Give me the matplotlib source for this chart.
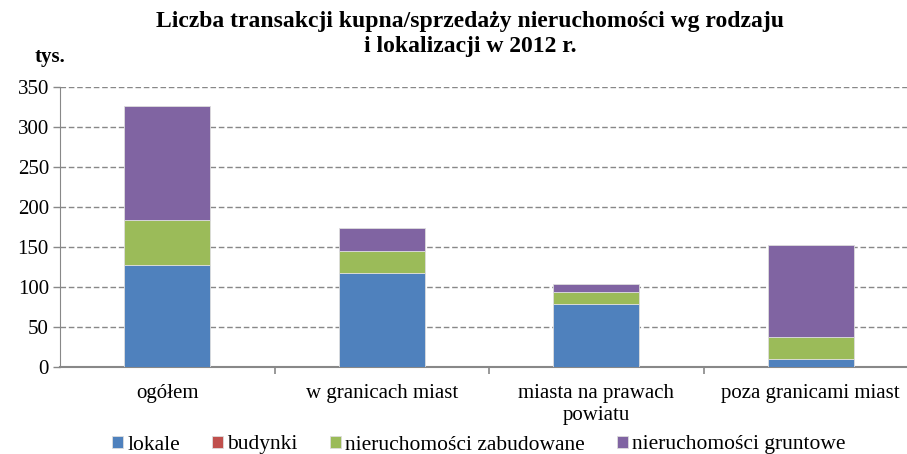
import matplotlib
matplotlib.use("Agg")
from matplotlib import pyplot as plt
import numpy as np

plt.rcParams['font.family'] = ['Liberation Serif', 'DejaVu Serif']

categories = ['ogółem', 'w granicach miast', 'miasta na prawach\npowiatu', 'poza granicami miast']
series_names = ['lokale', 'budynki', 'nieruchomości zabudowane', 'nieruchomości gruntowe']
lokale = [127, 117, 79, 10]
budynki = [0.6, 0.4, 0.3, 0.2]
zabudowane = [56, 28, 15, 27]
gruntowe = [143, 28, 10, 115]
colors = ['#4F81BD', '#C0504D', '#9BBB59', '#8064A2']
yticks = [0, 50, 100, 150, 200, 250, 300, 350]

fig = plt.figure(figsize=(9.07, 4.54), dpi=100)
ax = fig.add_axes([60/907, 87/454, 858/907, 280/454])

x = np.arange(len(categories))
bottom = np.zeros(len(categories))
for vals, name, c in zip([lokale, budynki, zabudowane, gruntowe], series_names, colors):
    ax.bar(x, vals, 0.4, bottom=bottom, color=c, label=name, edgecolor='#dddddd', linewidth=0.6, zorder=3)
    bottom += np.array(vals)

ax.set_xlim(-0.5, 3.5)
ax.set_ylim(0, 350)
ax.set_yticks(yticks)
ax.set_yticklabels([str(t) for t in yticks], fontsize=15)
for t in yticks[1:]:
    ax.axhline(t, color='#888888', linestyle=(0, (4, 2)), linewidth=1.0, zorder=1)

ax.set_xticks(x)
ax.set_xticklabels(categories, fontsize=15, linespacing=1.25)
ax.set_xticks(np.arange(0.5, 3.5, 1), minor=True)
ax.tick_params(axis='x', which='major', length=0, pad=12)
ax.tick_params(axis='x', which='minor', length=5, color='#888888', width=1.2)
ax.tick_params(axis='y', length=5, color='#888888', width=1.0, pad=3)
for s in ['top', 'right']:
    ax.spines[s].set_visible(False)
ax.spines['left'].set_color('#888888')
ax.spines['bottom'].set_color('#888888')
ax.spines['bottom'].set_linewidth(1.5)

fig.text(470/907, 1 - 34/454, 'Liczba transakcji kupna/sprzedaży nieruchomości wg rodzaju\ni lokalizacji w 2012 r.',
         ha='center', va='center', fontsize=17, fontweight='bold', linespacing=1.3)
fig.text(35/907, 1 - 57/454, 'tys.', ha='left', va='center', fontsize=15, fontweight='bold')

fig.legend(loc='center', bbox_to_anchor=(479/907, 1 - 445/454), ncol=4, frameon=False,
           fontsize=15.5, handlelength=0.5, handleheight=0.5, handletextpad=0.2, columnspacing=1.5)

fig.savefig('out.png', dpi=100)
